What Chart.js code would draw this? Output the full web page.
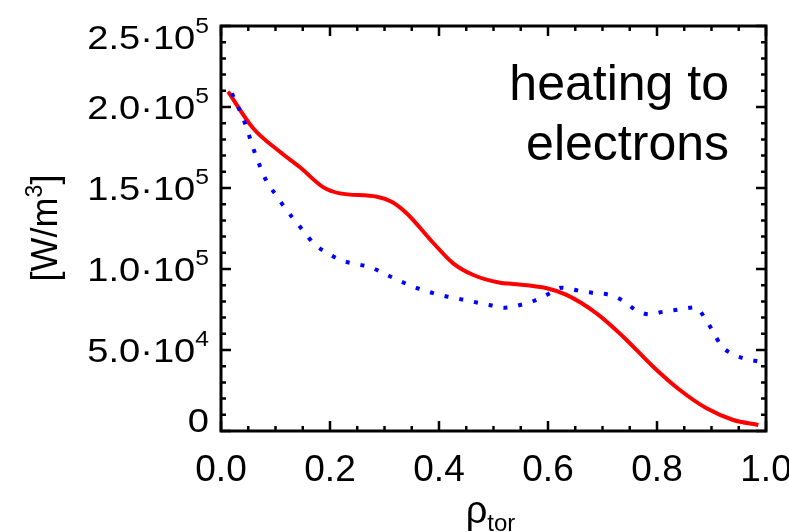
<!DOCTYPE html>
<html>
<head>
<meta charset="utf-8">
<script src="https://cdn.jsdelivr.net/npm/chart.js@4.4.1/dist/chart.umd.min.js"></script>
<style>
    html, body { margin: 0; padding: 0; background: #fff; }
    #wrap { width: 789px; height: 532px; }
</style>
</head>
<body>
<div id="wrap"><canvas id="heatChart" width="789" height="532"></canvas></div>
<script>
// rho_tor positions and heating density
const rhoRed = [0.013, 0.059, 0.108, 0.145, 0.188, 0.218, 0.286, 0.313, 0.341, 0.390, 0.426, 0.463,
    0.512, 0.536, 0.598, 0.634, 0.689, 0.738, 0.793, 0.842, 0.891, 0.940, 0.986];
const heatRed = [2.095e5, 1.869e5, 1.724e5, 1.628e5, 1.504e5, 1.467e5, 1.446e5, 1.415e5, 1.343e5, 1.159e5,
    1.035e5, 0.963e5, 0.915e5, 0.908e5, 0.881e5, 0.840e5, 0.726e5, 0.582e5, 0.397e5, 0.253e5,
    0.140e5, 0.068e5, 0.037e5];

const rhoBlue = [0.020, 0.044, 0.062, 0.084, 0.101, 0.117, 0.135, 0.153, 0.171, 0.194, 0.220, 0.247,
    0.275, 0.301, 0.327, 0.353, 0.380, 0.408, 0.435, 0.463, 0.492, 0.521, 0.549, 0.575, 0.601,
    0.625, 0.654, 0.683, 0.712, 0.738, 0.761, 0.786, 0.813, 0.842, 0.871, 0.888, 0.903, 0.917,
    0.939, 0.966, 0.985];
const heatBlue = [2.085e5, 1.90e5, 1.718e5, 1.539e5, 1.457e5, 1.378e5, 1.302e5, 1.227e5, 1.154e5, 1.101e5,
    1.054e5, 1.031e5, 1.010e5, 0.969e5, 0.928e5, 0.891e5, 0.860e5, 0.835e5, 0.817e5, 0.798e5,
    0.778e5, 0.761e5, 0.778e5, 0.804e5, 0.846e5, 0.885e5, 0.868e5, 0.852e5, 0.841e5, 0.804e5,
    0.747e5, 0.720e5, 0.737e5, 0.751e5, 0.763e5, 0.696e5, 0.613e5, 0.531e5, 0.473e5, 0.443e5,
    0.430e5];

const xMajorTicks = [0, 0.2, 0.4, 0.6, 0.8, 1.0];
const xTickLabels = ["0.0", "0.2", "0.4", "0.6", "0.8", "1.0"];
const xMinorTicks = [0.05, 0.1, 0.15, 0.25, 0.3, 0.35, 0.45, 0.5, 0.55, 0.65, 0.7, 0.75, 0.85, 0.9, 0.95];
const yMajorTicks = [0, 5e4, 1e5, 1.5e5, 2e5, 2.5e5];
const yTickMantissa = ["0", "5.0·10", "1.0·10", "1.5·10", "2.0·10", "2.5·10"];
const yTickExponent = ["", "4", "5", "5", "5", "5"];
const yMinorTicks = [1e4, 2e4, 3e4, 4e4, 6e4, 7e4, 8e4, 9e4, 1.1e5, 1.2e5, 1.3e5, 1.4e5,
    1.6e5, 1.7e5, 1.8e5, 1.9e5, 2.1e5, 2.2e5, 2.3e5, 2.4e5];

const annotationLines = ["heating to", "electrons"];

const FONT = "'Liberation Sans', Arial, Helvetica, sans-serif";

function toPoints(xs, ys) {
    return xs.map((x, i) => ({ x: x, y: ys[i] }));
}

// frame, inward ticks on all four sides, labels and titles
const framePlugin = {
    id: "idlFrame",
    afterDraw(chart) {
        const ctx = chart.ctx;
        const xs = chart.scales.x;
        const ys = chart.scales.y;
        const a = chart.chartArea;
        ctx.save();
        ctx.strokeStyle = "#000";
        ctx.lineCap = "butt";

        ctx.lineWidth = 2.5;
        xMajorTicks.concat(xMinorTicks).forEach((v) => {
            const len = xMajorTicks.includes(v) ? 10 : 5;
            const px = xs.getPixelForValue(v);
            ctx.beginPath();
            ctx.moveTo(px, a.bottom); ctx.lineTo(px, a.bottom - len);
            ctx.moveTo(px, a.top); ctx.lineTo(px, a.top + len);
            ctx.stroke();
        });
        yMajorTicks.concat(yMinorTicks).forEach((v) => {
            const len = yMajorTicks.includes(v) ? 10 : 5;
            const py = ys.getPixelForValue(v);
            ctx.beginPath();
            ctx.moveTo(a.left, py); ctx.lineTo(a.left + len, py);
            ctx.moveTo(a.right, py); ctx.lineTo(a.right - len, py);
            ctx.stroke();
        });

        ctx.lineWidth = 3;
        ctx.strokeRect(a.left, a.top, a.right - a.left, a.bottom - a.top);

        ctx.fillStyle = "#000";

        // x tick labels
        ctx.font = "37px " + FONT;
        ctx.textAlign = "center";
        ctx.textBaseline = "alphabetic";
        xMajorTicks.forEach((v, i) => {
            ctx.fillText(xTickLabels[i], xs.getPixelForValue(v), 481);
        });

        // y tick labels with superscript exponents (slightly wide glyphs, as in the figure)
        const stretch = 1.12;
        yMajorTicks.forEach((v, i) => {
            let py = ys.getPixelForValue(v);
            if (i === 0) py -= 11;
            if (i === yMajorTicks.length - 1) py += 11;
            const right = 209;
            ctx.textAlign = "left";
            ctx.font = "22px " + FONT;
            const expW = yTickExponent[i] ? ctx.measureText(yTickExponent[i]).width : 0;
            ctx.font = "34px " + FONT;
            const mainW = ctx.measureText(yTickMantissa[i]).width;
            ctx.save();
            ctx.translate(right, 0);
            ctx.scale(stretch, 1);
            const x0 = -expW - mainW;
            ctx.fillText(yTickMantissa[i], x0, py + 12);
            if (yTickExponent[i]) {
                ctx.font = "22px " + FONT;
                ctx.fillText(yTickExponent[i], x0 + mainW, py - 4);
            }
            ctx.restore();
        });

        // y axis title [W/m^3]
        ctx.save();
        ctx.translate(57, 228);
        ctx.rotate(-Math.PI / 2);
        ctx.font = "36px " + FONT;
        const t1 = "[W/m";
        const t2 = "3";
        const t3 = "]";
        const w1 = ctx.measureText(t1).width;
        const w3 = ctx.measureText(t3).width;
        ctx.font = "23px " + FONT;
        const w2 = ctx.measureText(t2).width;
        const tx = -(w1 + w2 + w3) / 2;
        ctx.textAlign = "left";
        ctx.font = "36px " + FONT;
        ctx.fillText(t1, tx, 0);
        ctx.font = "23px " + FONT;
        ctx.fillText(t2, tx + w1, -15);
        ctx.font = "36px " + FONT;
        ctx.fillText(t3, tx + w1 + w2, 0);
        ctx.restore();

        // x axis title rho_tor
        ctx.textAlign = "left";
        ctx.font = "38px " + FONT;
        const rw = ctx.measureText("ρ").width;
        ctx.font = "24px " + FONT;
        const sw = ctx.measureText("tor").width;
        const rx = (a.left + a.right) / 2 - (rw + sw) / 2 - 3;
        ctx.font = "38px " + FONT;
        ctx.fillText("ρ", rx, 523);
        ctx.font = "24px " + FONT;
        ctx.fillText("tor", rx + rw, 531);

        // annotation
        ctx.font = "50px " + FONT;
        ctx.textAlign = "right";
        ctx.fillText(annotationLines[0], 729, 100);
        ctx.fillText(annotationLines[1], 729, 160);

        ctx.restore();
    }
};

new Chart(document.getElementById("heatChart"), {
    type: "line",
    data: {
        datasets: [
            {
                label: "blue",
                data: toPoints(rhoBlue, heatBlue),
                borderColor: "#0000ff",
                borderWidth: 4,
                borderDash: [4, 11],
                pointRadius: 0,
                cubicInterpolationMode: "monotone",
                fill: false
            },
            {
                label: "red",
                data: toPoints(rhoRed, heatRed),
                borderColor: "#ff0000",
                borderWidth: 4,
                pointRadius: 0,
                cubicInterpolationMode: "monotone",
                fill: false
            }
        ]
    },
    options: {
        responsive: false,
        animation: false,
        events: [],
        layout: { padding: { top: 26, right: 23, left: 0, bottom: 0 } },
        plugins: {
            legend: { display: false },
            tooltip: { enabled: false }
        },
        scales: {
            x: {
                type: "linear",
                min: 0,
                max: 1,
                grid: { display: false },
                border: { display: false },
                ticks: { display: false },
                afterFit(scale) { scale.height = 101; }
            },
            y: {
                type: "linear",
                min: 0,
                max: 2.5e5,
                grid: { display: false },
                border: { display: false },
                ticks: { display: false },
                afterFit(scale) { scale.width = 221; }
            }
        }
    },
    plugins: [framePlugin]
});
</script>
</body>
</html>
